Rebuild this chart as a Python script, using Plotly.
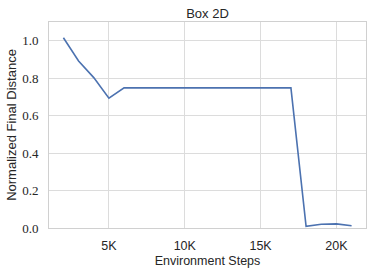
import plotly.graph_objects as go

steps = [2000, 3000, 4000, 5000, 6000, 7000, 8000, 9000, 10000, 11000,
         12000, 13000, 14000, 15000, 16000, 17000, 18000, 19000, 20000, 21000]
distance = [1.016, 0.892, 0.803, 0.693, 0.748, 0.748, 0.748, 0.747, 0.748, 0.747,
            0.747, 0.748, 0.747, 0.747, 0.748, 0.748, 0.009, 0.020, 0.022, 0.012]

x_tickvals = [5000, 10000, 15000, 20000]
x_ticktext = ["5K", "10K", "15K", "20K"]
y_tickvals = [0.0, 0.2, 0.4, 0.6, 0.8, 1.0]

fig = go.Figure()
fig.add_trace(go.Scatter(x=steps, y=distance, mode="lines",
                         line=dict(color="#4C72B0", width=1.6)))

sans = "Liberation Sans, Arial, sans-serif"
txt = "#262626"
fig.update_layout(
    width=379, height=273,
    margin=dict(l=49, r=13, t=22, b=45, autoexpand=False),
    paper_bgcolor="white", plot_bgcolor="white",
    showlegend=False,
    title=dict(text="Box 2D", x=0.5, xref="paper", xanchor="center",
               y=1 - 13/273, yanchor="middle",
               font=dict(family=sans, size=13, color=txt)),
    font=dict(family=sans, size=12.5, color=txt),
)
fig.update_xaxes(range=[1050, 21950], tickvals=x_tickvals, ticktext=x_ticktext,
                 showgrid=True, gridcolor="#dcdcdc", gridwidth=1,
                 showline=True, linecolor="#d0d0d0", linewidth=1, mirror=True,
                 zeroline=False, ticks="", ticklen=0, automargin=False,
                 ticklabelstandoff=6,
                 tickfont=dict(family=sans, size=12.5, color=txt),
                 title=dict(text="Environment Steps", standoff=4,
                            font=dict(family=sans, size=12.5, color=txt)))
fig.update_yaxes(range=[0, 1.1], tickvals=y_tickvals, tickformat=".1f",
                 showgrid=True, gridcolor="#dcdcdc", gridwidth=1,
                 showline=True, linecolor="#d0d0d0", linewidth=1, mirror=True,
                 zeroline=False, ticks="", ticklen=0, automargin=False,
                 ticklabelstandoff=7,
                 tickfont=dict(family="Liberation Serif, serif", size=13, color=txt),
                 title=dict(text="Normalized Final Distance", standoff=2,
                            font=dict(family=sans, size=13, color=txt)))

fig.write_html("out.html", config={"displayModeBar": False},
               post_script="document.body.style.margin='0';document.body.style.overflow='hidden';")
